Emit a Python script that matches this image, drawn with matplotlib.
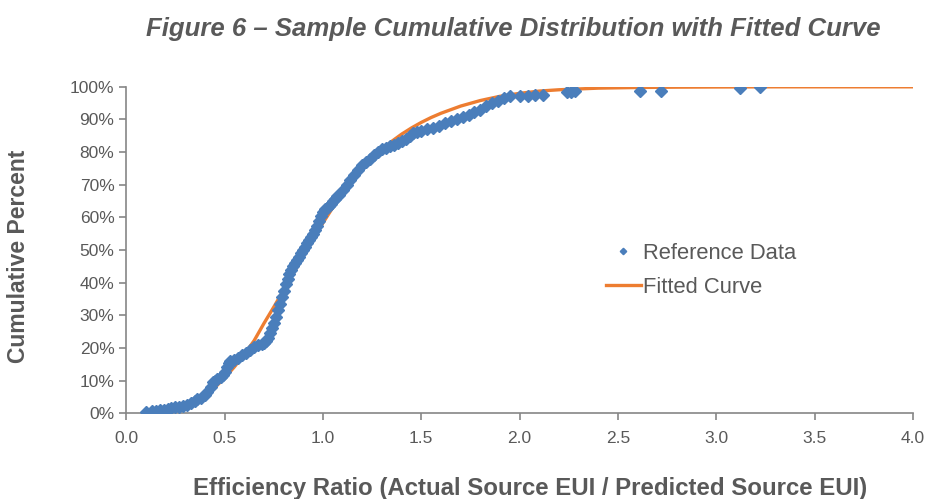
import matplotlib
matplotlib.use("Agg")
import matplotlib.pyplot as plt
from matplotlib.ticker import PercentFormatter, FormatStrFormatter

plt.rcParams['font.family'] = ['Liberation Sans', 'DejaVu Sans']

# Reference data (sample cumulative distribution)
data_x = [0.10, 0.13, 0.15, 0.17, 0.19, 0.21, 0.23, 0.25, 0.27, 0.29, 0.31, 0.33,
          0.35, 0.36, 0.38, 0.40, 0.41, 0.43, 0.44, 0.45, 0.46, 0.48, 0.49, 0.50,
          0.51, 0.52, 0.53, 0.55, 0.57, 0.59, 0.61, 0.63, 0.65, 0.67, 0.69, 0.70,
          0.71, 0.72, 0.73, 0.74, 0.75, 0.76, 0.77, 0.78, 0.79, 0.80, 0.81, 0.82,
          0.83, 0.84, 0.85, 0.86, 0.87, 0.88, 0.89, 0.90, 0.91, 0.92, 0.93, 0.94,
          0.95, 0.96, 0.97, 0.98, 0.99, 1.00, 1.01, 1.02, 1.03, 1.04, 1.05, 1.06,
          1.07, 1.08, 1.10, 1.12, 1.14, 1.16, 1.18, 1.20, 1.22, 1.24, 1.26, 1.28,
          1.30, 1.32, 1.34, 1.36, 1.38, 1.40, 1.42, 1.44, 1.46, 1.48, 1.50, 1.53,
          1.56, 1.59, 1.62, 1.65, 1.68, 1.71, 1.74, 1.77, 1.80, 1.83, 1.86, 1.89,
          1.92, 1.95, 2.00, 2.04, 2.08, 2.12, 2.24, 2.26, 2.28, 2.61, 2.72, 3.12, 3.22]
data_y = [0.5, 0.6, 0.8, 1.0, 1.1, 1.3, 1.5, 1.8, 2.0, 2.2, 2.6, 3.0,
          3.8, 4.2, 4.8, 5.5, 6.5, 8.0, 9.5, 10.0, 10.5, 11.0, 11.8, 12.5,
          14.0, 15.5, 16.0, 16.3, 16.8, 17.8, 18.5, 19.5, 20.3, 20.8, 21.2, 21.5,
          22.0, 23.0, 24.5, 26.0, 27.5, 29.5, 31.5, 33.5, 35.5, 37.5, 39.5, 41.0,
          42.5, 44.0, 45.0, 46.0, 47.0, 48.0, 49.0, 50.0, 51.0, 52.0, 53.0, 54.0,
          55.0, 56.0, 57.5, 59.0, 60.5, 61.5, 62.5, 63.0, 63.5, 64.0, 65.0, 65.5,
          66.5, 67.0, 68.5, 70.0, 71.5, 73.0, 74.5, 76.0, 77.0, 77.8, 79.0, 80.0,
          80.8, 81.3, 81.8, 82.3, 82.8, 83.3, 84.0, 85.0, 86.0, 86.3, 86.6, 87.0,
          87.3, 88.0, 88.8, 89.5, 90.0, 90.8, 91.5, 92.3, 93.0, 94.0, 95.0, 95.8,
          96.5, 97.2, 97.2, 97.3, 97.4, 97.5, 98.3, 98.5, 98.8, 98.7, 98.8, 99.6, 99.9]

# Fitted curve
fit_x = [0.10, 0.15, 0.20, 0.25, 0.30, 0.35, 0.40, 0.45, 0.50, 0.55, 0.60, 0.65,
         0.70, 0.75, 0.80, 0.85, 0.90, 0.95, 1.00, 1.05, 1.10, 1.15, 1.20, 1.25,
         1.30, 1.35, 1.40, 1.45, 1.50, 1.55, 1.60, 1.70, 1.80, 1.90, 2.00, 2.10,
         2.20, 2.40, 2.60, 2.80, 3.00, 3.30, 3.60, 4.00]
fit_y = [0.0, 0.1, 0.4, 1.0, 2.0, 3.4, 5.3, 7.8, 10.8, 14.2, 18.0, 22.2,
         27.5, 32.5, 37.7, 42.9, 48.0, 53.2, 58.3, 63.0, 67.3, 71.2, 74.8, 78.0,
         80.8, 83.3, 85.5, 87.4, 89.1, 90.6, 91.9, 94.1, 95.8, 97.1, 98.0, 98.7,
         99.1, 99.6, 99.8, 99.9, 99.95, 100.0, 100.0, 100.0]

x_ticks = [0.0, 0.5, 1.0, 1.5, 2.0, 2.5, 3.0, 3.5, 4.0]
y_ticks = [0, 10, 20, 30, 40, 50, 60, 70, 80, 90, 100]

blue = '#4a7ebb'
orange = '#ed7d31'
text_gray = '#595959'
axis_gray = '#868686'

fig = plt.figure(figsize=(9.28, 4.99), dpi=100)
ax = fig.add_axes([0.136, 0.172, 0.848, 0.654])

ax.plot(fit_x, fit_y, color=orange, lw=2.4, label='Fitted Curve', zorder=2)
ax.plot(data_x, data_y, ls='none', marker='D', ms=6.5, color=blue,
        label='Reference Data', zorder=3)

ax.set_xlim(0, 4.0)
ax.set_ylim(0, 100)
ax.set_xticks(x_ticks)
ax.set_yticks(y_ticks)
ax.xaxis.set_major_formatter(FormatStrFormatter('%.1f'))
ax.yaxis.set_major_formatter(PercentFormatter(decimals=0))

for s in ['top', 'right']:
    ax.spines[s].set_visible(False)
for s in ['left', 'bottom']:
    ax.spines[s].set_color(axis_gray)
    ax.spines[s].set_linewidth(1.2)
ax.tick_params(colors=axis_gray, labelcolor=text_gray, labelsize=12.5,
               length=5, width=1.2)
ax.tick_params(axis='x', pad=8)

ax.set_xlabel('Efficiency Ratio (Actual Source EUI / Predicted Source EUI)',
              fontsize=17.3, fontweight='bold', color=text_gray, va='center')
ax.xaxis.set_label_coords(0.513, -0.23)
ax.set_ylabel('Cumulative Percent', fontsize=16.5, fontweight='bold',
              color=text_gray, va='center')
ax.yaxis.set_label_coords(-0.137, 0.48)

fig.suptitle('Figure 6 \u2013 Sample Cumulative Distribution with Fitted Curve',
             x=0.553, y=0.965, fontsize=18.5, fontweight='bold', style='italic',
             color=text_gray)

handles, labels = ax.get_legend_handles_labels()
ax.legend(handles[::-1], labels[::-1], loc='center left',
          bbox_to_anchor=(0.584, 0.437), frameon=False, fontsize=15.8,
          labelcolor=text_gray, handlelength=1.6, handletextpad=0.1,
          labelspacing=0.6, markerscale=0.5)

fig.savefig('out.png', dpi=100)
